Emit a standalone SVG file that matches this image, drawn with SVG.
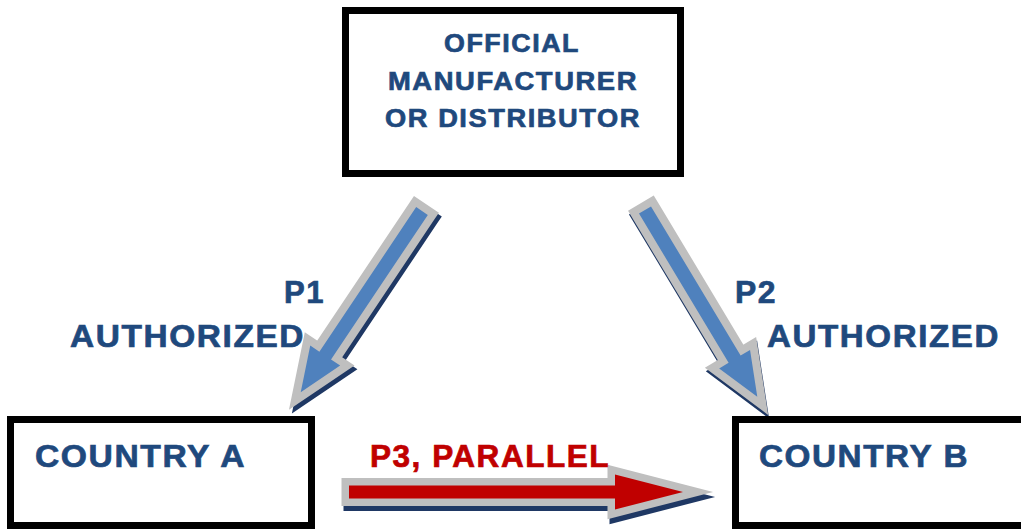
<svg xmlns="http://www.w3.org/2000/svg" width="1021" height="529" viewBox="0 0 1021 529">
<style>
.box{fill:#fff;stroke:#000;stroke-width:7}
.t{font-family:"Liberation Sans",Arial,sans-serif;font-weight:bold;fill:#1F497D;stroke:#1F497D;stroke-width:0.7;letter-spacing:1.5px}
.red{fill:#C00000;stroke:#C00000}
.arr{stroke:#BFBFBF;stroke-width:16;stroke-linejoin:miter;stroke-miterlimit:10;paint-order:stroke fill}
.shadow{fill:#1F3864;stroke:#1F3864;stroke-width:16;stroke-linejoin:miter;stroke-miterlimit:10}
.blue{fill:#4F81BD}
.redf{fill:#C00000}
</style>
<rect width="1021" height="529" fill="#fff"/>
<g id="connectors">
  <g id="p1-arrow" transform="translate(422,211) rotate(123.8)">
    <polygon class="shadow" transform="translate(1.5,-4.5)" points="0,-7 174,-7 174,-18 218,0 174,18 174,7 0,7"/>
    <polygon class="arr blue" points="0,-7 174,-7 174,-18 218,0 174,18 174,7 0,7"/>
  </g>
  <g id="p2-arrow" transform="translate(645,210) rotate(59)">
    <polygon class="shadow" transform="translate(3.5,1)" points="0,-7 174,-7 174,-18 218,0 174,18 174,7 0,7"/>
    <polygon class="arr blue" points="0,-7 174,-7 174,-18 218,0 174,18 174,7 0,7"/>
  </g>
  <g id="p3-arrow">
    <polygon class="shadow" style="stroke-width:15" transform="translate(2,5)" points="349,485.5 615,485.5 615,474.5 683,492 615,509.5 615,498.5 349,498.5"/>
    <polygon class="arr redf" style="stroke-width:15" points="349,485.5 615,485.5 615,474.5 683,492 615,509.5 615,498.5 349,498.5"/>
  </g>
</g>
<g id="manufacturer">
  <rect class="box" x="345.5" y="10.5" width="335" height="163"/>
  <text class="t" font-size="26" x="444" y="52" textLength="136" lengthAdjust="spacingAndGlyphs">OFFICIAL</text>
  <text class="t" font-size="26" x="388" y="90" textLength="250" lengthAdjust="spacingAndGlyphs">MANUFACTURER</text>
  <text class="t" font-size="26" x="385" y="127" textLength="256" lengthAdjust="spacingAndGlyphs">OR DISTRIBUTOR</text>
</g>
<g id="country-a">
  <rect class="box" x="10.5" y="419.5" width="301" height="106"/>
  <text class="t" font-size="32" x="35" y="467" textLength="211" lengthAdjust="spacingAndGlyphs">COUNTRY A</text>
</g>
<g id="country-b">
  <rect class="box" x="735.5" y="419.5" width="300" height="106"/>
  <text class="t" font-size="32" x="759" y="467" textLength="210" lengthAdjust="spacingAndGlyphs">COUNTRY B</text>
</g>
<g id="labels">
  <text class="t" font-size="31" x="284" y="303" textLength="41" lengthAdjust="spacingAndGlyphs">P1</text>
  <text class="t" font-size="31" x="70" y="347" textLength="235" lengthAdjust="spacingAndGlyphs">AUTHORIZED</text>
  <text class="t" font-size="31" x="735" y="303" textLength="42" lengthAdjust="spacingAndGlyphs">P2</text>
  <text class="t" font-size="31" x="767" y="347" textLength="233" lengthAdjust="spacingAndGlyphs">AUTHORIZED</text>
  <text class="t red" font-size="31" x="370" y="467" textLength="240" lengthAdjust="spacingAndGlyphs">P3, PARALLEL</text>
</g>
</svg>
